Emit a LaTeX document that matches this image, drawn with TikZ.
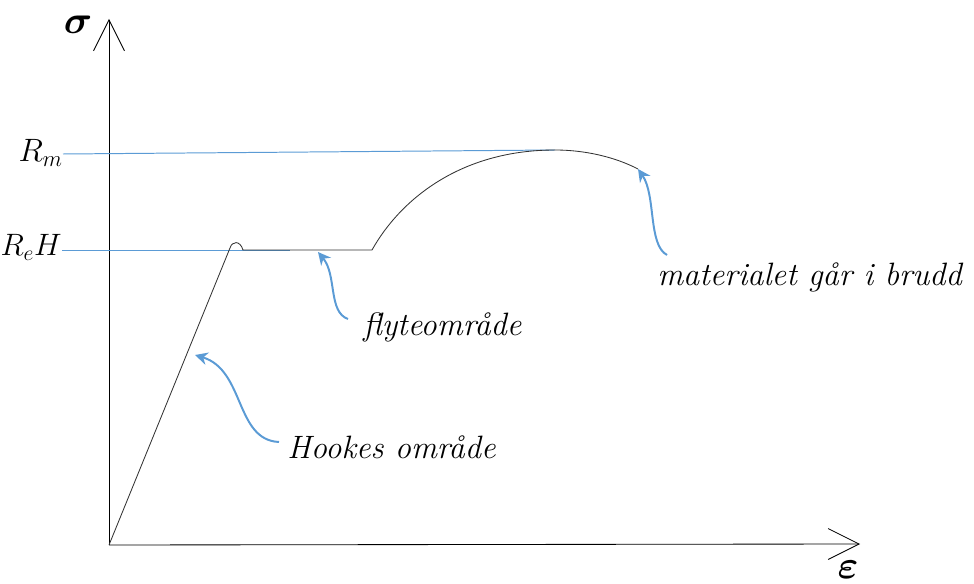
\RequirePackage{fix-cm}
\documentclass[tikz,border=0pt]{standalone}
\usepackage{amsmath}
\usetikzlibrary{arrows.meta}
\definecolor{blaa}{RGB}{91,155,213}

\begin{document}
\begin{tikzpicture}[x=0.025cm,y=-0.025cm,
    akse/.style={line width=0.6pt, -{Straight Barb[length=22pt,width=22pt]}},
    kurve/.style={line width=0.6pt, black!80},
    niva/.style={blaa, line width=0.7pt},
    pil/.style={blaa, line width=1.4pt, -{Stealth[length=9pt,width=9pt]}},
    tekst/.style={font=\fontsize{23}{27}\selectfont\itshape, inner sep=0pt},
    aksenavn/.style={font=\fontsize{28}{32}\selectfont\boldmath, inner sep=0pt}]
    \useasboundingbox (0,0) rectangle (974,584);
    \def \flyt {250} % yield level R_eH
    \def \maks {150} % tensile strength R_m

    % axes
    \coordinate (O) at (109,545);
    \coordinate (ytopp) at (109,19);
    \coordinate (xtopp) at (860,544);
    \draw[akse] (O) -- (ytopp);
    \draw[akse] (O) -- (xtopp);
    \node[aksenavn] (sigma) at (78,25) {$\sigma$};
    \node[aksenavn, anchor=base] (eps) at (848,578) {$\varepsilon$};

    % levels on the stress axis
    \node[tekst, anchor=base east] (Rm) at (63,162) {$R_m$};
    \node[tekst, anchor=base east, font=\fontsize{22}{26}\selectfont] (ReH) at (62,256) {$R_eH$};
    \coordinate (flytstart) at (290,\flyt);
    \coordinate (flytslutt) at (372,\flyt);
    \coordinate (topp) at (555,\maks);
    \draw[niva] (Rm.base east) ++(0,-8) -- (topp);
    \draw[niva] (ReH.base east) ++(0,-6) -- (flytstart);

    % the stress-strain curve
    \coordinate (brudd) at (638,169);
    \draw[kurve] (O) -- (230,248) .. controls (232,241) and (240,240) .. (243,\flyt)
      -- (flytstart) -- (flytslutt)
      .. controls (400,200) and (460,\maks) .. (topp)
      .. controls (585,\maks) and (615,157) .. (brudd);

    % labels with arrows
    \node[tekst, anchor=base west] (hooke) at (287,458) {Hookes område};
    \node[tekst, anchor=base west] (flyte) at (363,335) {flyteområde};
    \node[tekst, anchor=base west] (bruddtekst) at (657,285) {materialet går i brudd};
    \coordinate (hookehale) at (279,442);
    \coordinate (hookespiss) at (195,355);
    \coordinate (flytehale) at (348,319);
    \coordinate (flytespiss) at (318,252);
    \coordinate (bruddhale) at (667,255);
    \draw[pil] (hookehale) .. controls (235,440) and (245,370) .. (hookespiss);
    \draw[pil] (flytehale) .. controls (328,312) and (337,275) .. (flytespiss);
    \draw[pil] (bruddhale) .. controls (648,245) and (656,195) .. (brudd);
\end{tikzpicture}
\end{document}
